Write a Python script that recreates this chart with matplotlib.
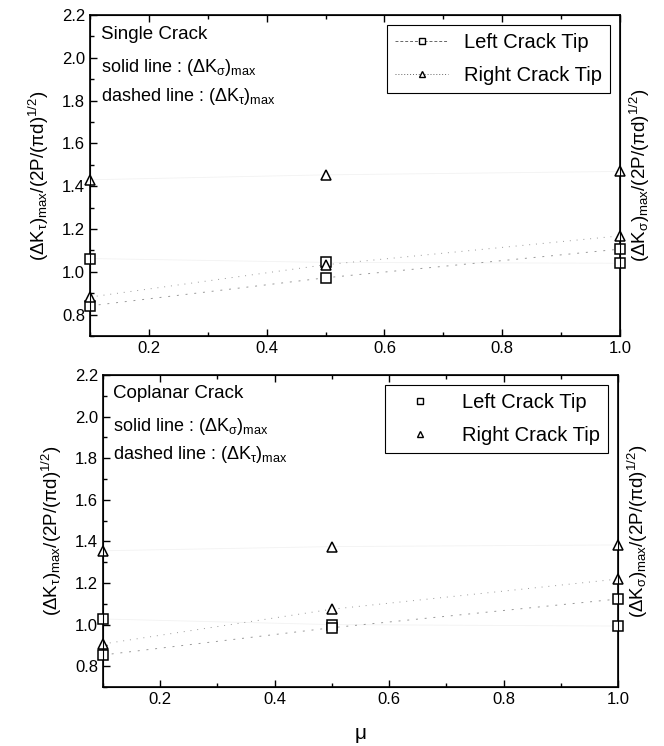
import matplotlib
matplotlib.use('Agg')
import matplotlib.pyplot as plt
from matplotlib.ticker import MultipleLocator
from matplotlib.lines import Line2D

plt.rcParams['font.family'] = ['Liberation Sans', 'DejaVu Sans']
plt.rcParams['mathtext.fontset'] = 'custom'
plt.rcParams['mathtext.rm'] = 'Liberation Sans'
plt.rcParams['mathtext.it'] = 'Liberation Sans'
plt.rcParams['mathtext.bf'] = 'Liberation Sans:bold'

# data
mu = [0.1, 0.5, 1.0]

# single crack
single_sig_left = [1.062, 1.044, 1.040]
single_sig_right = [1.430, 1.453, 1.469]
single_tau_left = [0.841, 0.972, 1.106]
single_tau_right = [0.882, 1.033, 1.168]

# coplanar crack
copl_sig_left = [1.027, 1.000, 0.993]
copl_sig_right = [1.355, 1.375, 1.383]
copl_tau_left = [0.854, 0.985, 1.123]
copl_tau_right = [0.907, 1.074, 1.219]

xticks = [0.2, 0.4, 0.6, 0.8, 1.0]
yticks = [0.8, 1.0, 1.2, 1.4, 1.6, 1.8, 2.0, 2.2]

ylab_tau = r'$\mathrm{(\Delta K_{\tau})_{max}/(2P/(\pi d)^{1/2})}$'
ylab_sig = r'$\mathrm{(\Delta K_{\sigma})_{max}/(2P/(\pi d)^{1/2})}$'

fig = plt.figure(figsize=(6.64, 7.46), dpi=100)
W, H = 664, 746
ax1 = fig.add_axes([90 / W, 1 - 336 / H, (620 - 90) / W, (336 - 15) / H])
ax2 = fig.add_axes([103 / W, 1 - 687 / H, (618 - 103) / W, (687 - 375) / H])

mk = dict(mfc='white', mec='black', mew=1.1, ms=7, clip_on=False, zorder=5)


def draw_panel(ax, sig_l, sig_r, tau_l, tau_r):
    # solid lines barely survived the scan
    ax.plot(mu, sig_l, color='0.95', lw=0.6, zorder=1)
    ax.plot(mu, sig_r, color='0.95', lw=0.6, zorder=1)
    ax.plot(mu, tau_l, color='0.6', lw=0.7, dashes=(2, 7), zorder=1)
    ax.plot(mu, tau_r, color='0.6', lw=0.7, dashes=(1, 6), zorder=1)
    for vals in (sig_l, tau_l):
        ax.plot(mu, vals, ls='none', marker='s', **mk)
    for vals in (sig_r, tau_r):
        ax.plot(mu, vals, ls='none', marker='^', **mk)

    ax.set_xlim(0.1, 1.0)
    ax.set_ylim(0.7, 2.2)
    ax.set_xticks(xticks)
    ax.set_yticks(yticks)
    ax.xaxis.set_minor_locator(MultipleLocator(0.1))
    ax.yaxis.set_minor_locator(MultipleLocator(0.1))
    ax.tick_params(which='both', direction='in', top=True, right=True,
                   labelsize=12, width=1)
    ax.tick_params(which='major', length=5)
    ax.tick_params(which='minor', length=3)
    for s in ax.spines.values():
        s.set_linewidth(1.2)
    ax.set_ylabel(ylab_tau, fontsize=13.5, labelpad=8)
    axr = ax.twinx()
    axr.set_ylim(0.7, 2.2)
    axr.set_yticks([])
    axr.set_ylabel(ylab_sig, fontsize=13.5, labelpad=6)


draw_panel(ax1, single_sig_left, single_sig_right, single_tau_left, single_tau_right)
draw_panel(ax2, copl_sig_left, copl_sig_right, copl_tau_left, copl_tau_right)

# annotations
for ax, title in ((ax1, 'Single Crack'), (ax2, 'Coplanar Crack')):
    ax.text(0.02, 0.94, title, transform=ax.transAxes, fontsize=13.5, va='center')
    ax.text(0.02, 0.835, r'solid line : $\mathrm{(\Delta K_{\sigma})_{max}}$',
            transform=ax.transAxes, fontsize=13, va='center')
    ax.text(0.02, 0.745, r'dashed line : $\mathrm{(\Delta K_{\tau})_{max}}$',
            transform=ax.transAxes, fontsize=13, va='center')

# legends
h1 = [Line2D([], [], color='0.4', lw=0.7, dashes=(3, 2), marker='s', mfc='white', mec='black', ms=5),
      Line2D([], [], color='0.4', lw=0.7, dashes=(1, 2), marker='^', mfc='white', mec='black', ms=5)]
leg1 = ax1.legend(h1, ['Left Crack Tip', 'Right Crack Tip'], loc='upper right',
                  fontsize=14.5, fancybox=False, edgecolor='black', framealpha=1,
                  handlelength=2.6, borderaxespad=0.5, labelspacing=0.7)
leg1.get_frame().set_linewidth(0.8)
h2 = [Line2D([], [], ls='none', marker='s', mfc='white', mec='black', ms=5),
      Line2D([], [], ls='none', marker='^', mfc='white', mec='black', ms=5)]
leg2 = ax2.legend(h2, ['Left Crack Tip', 'Right Crack Tip'], loc='upper right',
                  fontsize=14.5, fancybox=False, edgecolor='black', framealpha=1,
                  handlelength=2.6, borderaxespad=0.5, labelspacing=0.7)
leg2.get_frame().set_linewidth(0.8)

ax2.set_xlabel(r'$\mathrm{\mu}$', fontsize=15, labelpad=14)

fig.savefig('out.png', dpi=100)
